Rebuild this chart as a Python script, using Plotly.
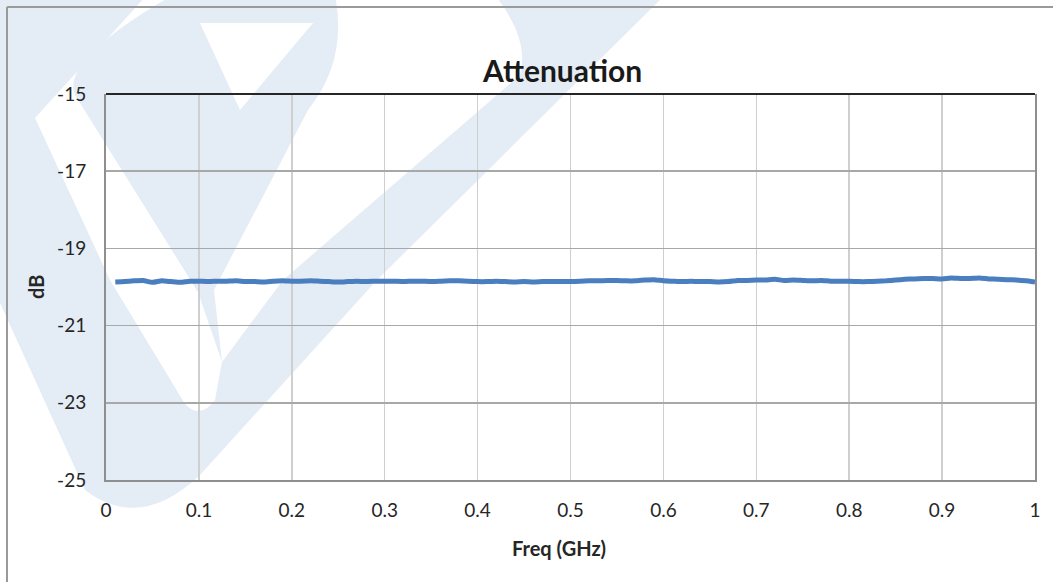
import plotly.graph_objects as go

# ---------------- data ----------------
freq_ghz = [round(0.01 * i, 2) for i in range(1, 101)]
atten_db = [
    -19.87, -19.86, -19.84, -19.83, -19.88, -19.84, -19.86, -19.88, -19.85, -19.85,
    -19.86, -19.85, -19.85, -19.84, -19.86, -19.86, -19.87, -19.85, -19.84, -19.85,
    -19.85, -19.84, -19.85, -19.86, -19.87, -19.86, -19.85, -19.86, -19.85, -19.85,
    -19.85, -19.86, -19.85, -19.85, -19.86, -19.85, -19.84, -19.84, -19.85, -19.86,
    -19.86, -19.85, -19.86, -19.87, -19.86, -19.87, -19.86, -19.86, -19.86, -19.86,
    -19.85, -19.84, -19.84, -19.83, -19.83, -19.84, -19.84, -19.82, -19.81, -19.84,
    -19.85, -19.86, -19.85, -19.86, -19.86, -19.87, -19.86, -19.83, -19.83, -19.82,
    -19.82, -19.80, -19.83, -19.82, -19.83, -19.84, -19.83, -19.85, -19.85, -19.85,
    -19.86, -19.86, -19.85, -19.84, -19.82, -19.80, -19.79, -19.78, -19.78, -19.79,
    -19.77, -19.78, -19.78, -19.77, -19.79, -19.80, -19.81, -19.82, -19.84, -19.87,
]
x_ticks = [0, 0.1, 0.2, 0.3, 0.4, 0.5, 0.6, 0.7, 0.8, 0.9, 1]
x_tick_text = ["0", "0.1", "0.2", "0.3", "0.4", "0.5", "0.6", "0.7", "0.8", "0.9", "1"]
y_ticks = [-25, -23, -21, -19, -17, -15]
y_tick_text = ["-25", "-23", "-21", "-19", "-17", "-15"]

# ---------------- geometry ----------------
W, H = 1053, 582
L, R, T, B = 106, 1035, 94, 480
PW, PH = R - L, B - T
FONT = "Lato, 'Open Sans', sans-serif"
WM = "#E4ECF6"


def px(x, y):
    return (x - L) / PW, 1 - (y - T) / PH


def path(cmds):
    out = []
    for c in cmds:
        if isinstance(c, str):
            out.append(c)
        else:
            a, b = px(*c)
            out.append(f"{a:.5f},{b:.5f}")
    return " ".join(out)


fig = go.Figure()
fig.add_trace(go.Scatter(
    x=freq_ghz, y=atten_db, mode="lines",
    line=dict(color="#4A7EBF", width=5, shape="spline", smoothing=0.4),
    showlegend=False, hoverinfo="skip",
))

shapes = []
# watermark (light blue logo): outer V band
v_band = path(["M", (-140, -5), "L", (147, -5), "L", (35, 118), "L", (110, 280),
               "L", (185, 404), "Q", (200, 420), (215, 400), "L", (222, 362),
               "L", (283, 280), "L", (520, 75), "Q", (530, 40), (495, -5),
               "L", (665, -5), "L", (377, 280), "L", (200, 475),
               "Q", (140, 532), (85, 490), "Z"])
# inner "B" shape with bowl hole, tapering to a point where it meets the right arm
b_shape = path(["M", (173, -5), "L", (335, -5), "Q", (348, 60), (308, 110),
                "L", (214, 290), "L", (222, 362), "L", (198, 292), "L", (75, 95),
                "Q", (60, 60), (173, -5), "Z",
                "M", (200, 23), "L", (313, 23), "L", (240, 110), "Z"])
for p in (v_band, b_shape):
    shapes.append(dict(type="path", path=p, xref="paper", yref="paper",
                       fillcolor=WM, line=dict(width=0), layer="below",
                       fillrule="evenodd"))

# top frame line of plot (dark)
shapes.append(dict(type="line", xref="paper", yref="paper", x0=0, x1=1, y0=1, y1=1,
                   line=dict(color="#262626", width=2), layer="above"))
# outer chart border (left and top)
x7, y7 = px(7, 7)
xb, yb = px(7, 590)
xr, _ = px(1060, 7)
shapes.append(dict(type="line", xref="paper", yref="paper", x0=x7, x1=x7, y0=y7, y1=yb,
                   line=dict(color="#9A9A9A", width=2)))
shapes.append(dict(type="line", xref="paper", yref="paper", x0=x7, x1=xr, y0=y7, y1=y7,
                   line=dict(color="#9A9A9A", width=2)))

annotations = [
    dict(text="<b>Attenuation</b>", x=px(562, 0)[0], y=px(0, 70)[1], xref="paper", yref="paper",
         showarrow=False, font=dict(family=FONT, size=30, color="#1A1A1A"),
         xanchor="center", yanchor="middle"),
    dict(text="<b>Freq (GHz)</b>", x=px(559, 0)[0], y=px(0, 548)[1], xref="paper", yref="paper",
         showarrow=False, font=dict(family=FONT, size=20, color="#262626"),
         xanchor="center", yanchor="middle"),
    dict(text="<b>dB</b>", x=px(36, 0)[0], y=px(0, 287)[1], xref="paper", yref="paper",
         showarrow=False, textangle=-90, font=dict(family=FONT, size=20, color="#262626"),
         xanchor="center", yanchor="middle"),
]

fig.update_layout(
    width=W, height=H,
    margin=dict(l=L, r=W - R, t=T, b=H - B, pad=0),
    paper_bgcolor="white", plot_bgcolor="rgba(0,0,0,0)",
    shapes=shapes, annotations=annotations,
    font=dict(family=FONT, color="#262626"),
)
fig.update_xaxes(
    range=[0, 1], tickmode="array", tickvals=x_ticks, ticktext=x_tick_text,
    showgrid=True, gridcolor="#CFCFCF", gridwidth=1.5,
    showline=True, linecolor="#8F8F8F", linewidth=2, mirror=False,
    ticks="", ticklabelstandoff=12, tickfont=dict(family=FONT, size=19, color="#262626"),
    zeroline=False, fixedrange=True,
)
fig.update_yaxes(
    range=[-25, -15], tickmode="array", tickvals=y_ticks, ticktext=y_tick_text,
    showgrid=True, gridcolor="#A8A8A8", gridwidth=1.5,
    showline=True, linecolor="#8F8F8F", linewidth=2, mirror=True,
    ticks="", ticklabelstandoff=14, tickfont=dict(family=FONT, size=19, color="#262626"),
    zeroline=False, fixedrange=True,
)

fig.write_html("out.html", config={"displayModeBar": False, "staticPlot": True},
               post_script="document.body.style.margin='0px';")
